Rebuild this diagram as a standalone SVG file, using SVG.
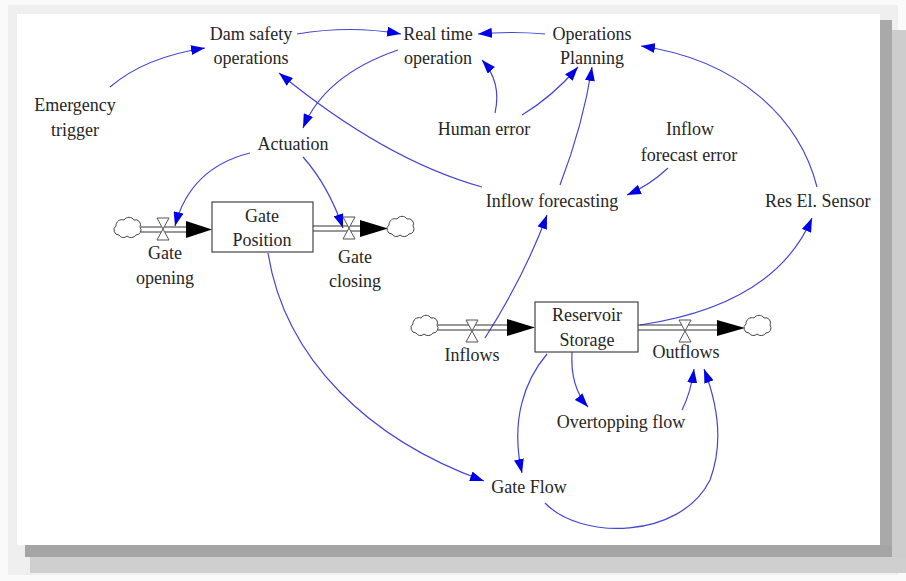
<svg xmlns="http://www.w3.org/2000/svg" width="906" height="581" viewBox="0 0 906 581">
<defs>
<style>
text{font-family:"Liberation Serif","Times New Roman",serif;font-size:18px;fill:#262626;text-anchor:middle}
.lnk{fill:none;stroke:#4646d2;stroke-width:1.2}
.pipe{fill:none;stroke:#333;stroke-width:1}
.box{fill:#fff;stroke:#444;stroke-width:1.2}
.cloud{fill:#fff;stroke:#444;stroke-width:1}
.valve{fill:#fff;stroke:#555;stroke-width:1}
.flowhead{fill:#000}
</style>
<marker id="ah" viewBox="0 0 14 10" refX="14" refY="5" markerWidth="14" markerHeight="10" markerUnits="userSpaceOnUse" orient="auto">
<path d="M0,0 L14,5 L0,10 Z" fill="#0000e6"/>
</marker>
<path id="cloudShape" d="M-9,7 a5,5 0 0 1 -3,-9 a6,6 0 0 1 8,-6 a6,6 0 0 1 10,0 a5,5 0 0 1 6,7 a5,5 0 0 1 -4,8 a6,6 0 0 1 -9,1 a5,5 0 0 1 -8,-1 z"/>
<path id="valveShape" d="M-6,-11 L6,-11 L0,0 L6,11 L-6,11 L0,0 Z"/>
</defs>

<!-- frame -->
<rect x="0" y="0" width="906" height="581" fill="#fafafa"/>
<rect x="8" y="5" width="890" height="570" fill="#efefef"/>
<rect x="17" y="14" width="863" height="531" fill="#ffffff"/>

<g id="connectors">
<path class="lnk" marker-end="url(#ah)" d="M110,87 Q145,57 205,48"/>
<path class="lnk" marker-end="url(#ah)" d="M297,34 Q350,25 401,34"/>
<path class="lnk" marker-end="url(#ah)" d="M545,34 Q512,31 478,34"/>
<path class="lnk" marker-end="url(#ah)" d="M398,50 Q325,75 303,128"/>
<path class="lnk" marker-end="url(#ah)" d="M482,187 Q385,160 279,73"/>
<path class="lnk" marker-end="url(#ah)" d="M495,113 Q502,82 482,60"/>
<path class="lnk" marker-end="url(#ah)" d="M522,115 Q552,97 578,67"/>
<path class="lnk" marker-end="url(#ah)" d="M560,185 Q583,125 592,67"/>
<path class="lnk" marker-end="url(#ah)" d="M668,168 Q650,185 627,195"/>
<path class="lnk" marker-end="url(#ah)" d="M817,187 C800,120 740,60 641,46"/>
<path class="lnk" marker-end="url(#ah)" d="M485,338 Q525,275 547,215"/>
<path class="lnk" marker-end="url(#ah)" d="M640,325 Q775,305 812,218"/>
<path class="lnk" marker-end="url(#ah)" d="M250,153 Q190,168 175,226"/>
<path class="lnk" marker-end="url(#ah)" d="M303,157 Q328,185 343,228"/>
<path class="lnk" marker-end="url(#ah)" d="M268,253 C285,360 370,440 484,481"/>
<path class="lnk" marker-end="url(#ah)" d="M572,352 Q570,387 588,407"/>
<path class="lnk" marker-end="url(#ah)" d="M547,354 C525,380 510,420 522,473"/>
<path class="lnk" marker-end="url(#ah)" d="M682,410 Q691,392 694,369"/>
<path class="lnk" marker-end="url(#ah)" d="M545,503 C580,540 680,540 710,480 C725,440 716,400 704,369"/>
</g>

<g id="node-dam-safety"><text x="251" y="40">Dam safety</text><text x="251" y="64">operations</text></g>
<g id="node-real-time"><text x="438" y="40">Real time</text><text x="438" y="64">operation</text></g>
<g id="node-ops-planning"><text x="592" y="40">Operations</text><text x="592" y="64">Planning</text></g>
<g id="node-emergency"><text x="75" y="111">Emergency</text><text x="75" y="136">trigger</text></g>
<g id="node-actuation"><text x="293" y="150">Actuation</text></g>
<g id="node-human-error"><text x="484" y="135">Human error</text></g>
<g id="node-inflow-forecast-error"><text x="690" y="135">Inflow</text><text x="689" y="161">forecast error</text></g>
<g id="node-inflow-forecasting"><text x="552" y="207">Inflow forecasting</text></g>
<g id="node-res-el-sensor"><text x="765" y="207" style="text-anchor:start">Res El. Sensor</text></g>

<g id="node-gate-position">
<rect class="box" x="212" y="202" width="101" height="50"/>
<text x="262" y="222">Gate</text><text x="262" y="246">Position</text>
</g>
<g id="node-gate-opening">
<use href="#cloudShape" class="cloud" x="128" y="228"/>
<line class="pipe" x1="141" y1="227" x2="190" y2="227"/>
<line class="pipe" x1="141" y1="232" x2="190" y2="232"/>
<polygon class="flowhead" points="186,221 212,229.5 186,238"/>
<use href="#valveShape" class="valve" x="163" y="229"/>
<text x="165" y="259">Gate</text><text x="165" y="284">opening</text>
</g>
<g id="node-gate-closing">
<line class="pipe" x1="313" y1="226" x2="365" y2="226"/>
<line class="pipe" x1="313" y1="231" x2="365" y2="231"/>
<use href="#valveShape" class="valve" x="349" y="228"/>
<polygon class="flowhead" points="360,220 388,228.5 360,237"/>
<use href="#cloudShape" class="cloud" x="401" y="227"/>
<text x="355" y="263">Gate</text><text x="355" y="287">closing</text>
</g>

<g id="node-reservoir-storage">
<rect class="box" x="535" y="302" width="103" height="50"/>
<text x="587" y="321">Reservoir</text><text x="587" y="346">Storage</text>
</g>
<g id="node-inflows">
<use href="#cloudShape" class="cloud" x="425" y="326"/>
<line class="pipe" x1="438" y1="325" x2="512" y2="325"/>
<line class="pipe" x1="438" y1="330" x2="512" y2="330"/>
<use href="#valveShape" class="valve" x="472" y="331"/>
<polygon class="flowhead" points="507,319 535,327.5 507,336"/>
<text x="472" y="361">Inflows</text>
</g>
<g id="node-outflows">
<line class="pipe" x1="638" y1="325" x2="720" y2="325"/>
<line class="pipe" x1="638" y1="330" x2="720" y2="330"/>
<use href="#valveShape" class="valve" x="685" y="331"/>
<polygon class="flowhead" points="717,320 745,328 717,336"/>
<use href="#cloudShape" class="cloud" x="758" y="326"/>
<text x="686" y="358">Outflows</text>
</g>
<g id="node-overtopping"><text x="621" y="428">Overtopping flow</text></g>
<g id="node-gate-flow"><text x="529" y="493">Gate Flow</text></g>

<!-- shadow -->
<rect x="880" y="20" width="12" height="537" fill="#a9a9a9"/>
<rect x="892" y="30" width="14" height="543" fill="#cdcdcd"/>
<rect x="25" y="545" width="867" height="12" fill="#a5a5a5"/>
<rect x="30" y="557" width="876" height="16" fill="#cfcfcf"/>
</svg>
